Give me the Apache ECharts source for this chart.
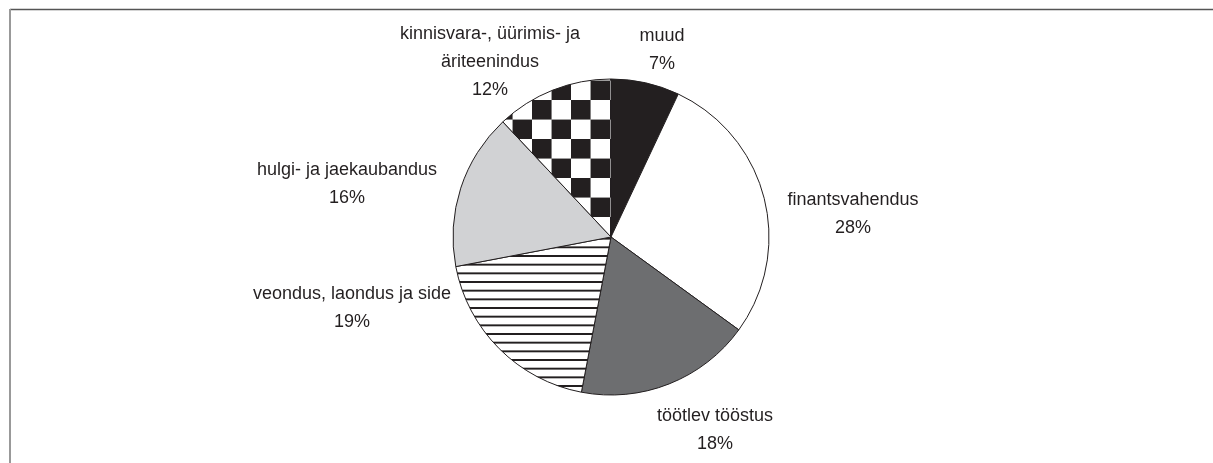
<!DOCTYPE html>
<html>
<head>
<meta charset="utf-8">
<script src="https://cdn.jsdelivr.net/npm/echarts@6/dist/echarts.min.js"></script>
<style>
  html, body { margin: 0; padding: 0; background: #fff; }
  #main { width: 1213px; height: 463px; }
</style>
</head>
<body>
<div id="main"></div>
<script>
// sektorid (päripäeva alates kella 12-st)
const categories = ['muud', 'finantsvahendus', 'töötlev tööstus', 'veondus, laondus ja side', 'hulgi- ja jaekaubandus', 'kinnisvara-, üürimis- ja\näriteenindus']
const shares = [7, 28, 18, 19, 16, 12]

// siltide asukohad (teksti keskpunkt)
const labelPos = [[662, 50], [853, 214], [715, 430], [352, 308], [347, 184], [490, 62]]

const ink = '#231f20'

// male muster
function checkerPattern() {
  const c = document.createElement('canvas')
  c.width = 40
  c.height = 40
  const ctx = c.getContext('2d')
  ctx.fillStyle = '#fff'
  ctx.fillRect(0, 0, 40, 40)
  ctx.fillStyle = ink
  ctx.fillRect(0, 0, 20, 20)
  ctx.fillRect(20, 20, 20, 20)
  return { image: c, repeat: 'repeat', x: 5.5, y: 2.5, scaleX: 0.975, scaleY: 0.975 }
}

// horisontaaltriibud
function stripePattern() {
  const c = document.createElement('canvas')
  c.width = 8
  c.height = 9
  const ctx = c.getContext('2d')
  ctx.fillStyle = '#fff'
  ctx.fillRect(0, 0, 8, 9)
  ctx.fillStyle = ink
  ctx.fillRect(0, 0, 8, 2)
  return { image: c, repeat: 'repeat', x: 0, y: 255, scaleX: 1, scaleY: 0.963 }
}

const fills = [ink, '#ffffff', '#6d6e70', stripePattern(), '#d1d2d4', checkerPattern()]

const chart = echarts.init(document.getElementById('main'), null, { renderer: 'canvas' })

chart.setOption({
  animation: false,
  backgroundColor: '#fff',
  graphic: [
    { type: 'line', shape: { x1: 10, y1: 9.5, x2: 1213, y2: 9.5 }, style: { stroke: '#555', lineWidth: 1.5 } },
    { type: 'line', shape: { x1: 10, y1: 9, x2: 10, y2: 463 }, style: { stroke: '#999', lineWidth: 2 } }
  ],
  series: [{
    type: 'pie',
    center: [611, 237],
    radius: 158,
    startAngle: 90,
    clockwise: true,
    avoidLabelOverlap: false,
    data: categories.map((name, i) => ({
      name,
      value: shares[i],
      itemStyle: { color: fills[i] }
    })),
    itemStyle: { borderColor: ink, borderWidth: 1 },
    label: {
      show: true,
      formatter: p => p.name + '\n' + p.value + '%',
      fontFamily: 'Liberation Sans, Arial, sans-serif',
      fontSize: 18,
      lineHeight: 28,
      color: ink,
      align: 'center'
    },
    labelLine: { show: false },
    labelLayout: params => ({
      x: labelPos[params.dataIndex][0],
      y: labelPos[params.dataIndex][1],
      align: 'center',
      verticalAlign: 'middle'
    }),
    emphasis: { disabled: true }
  }]
})
</script>
</body>
</html>
